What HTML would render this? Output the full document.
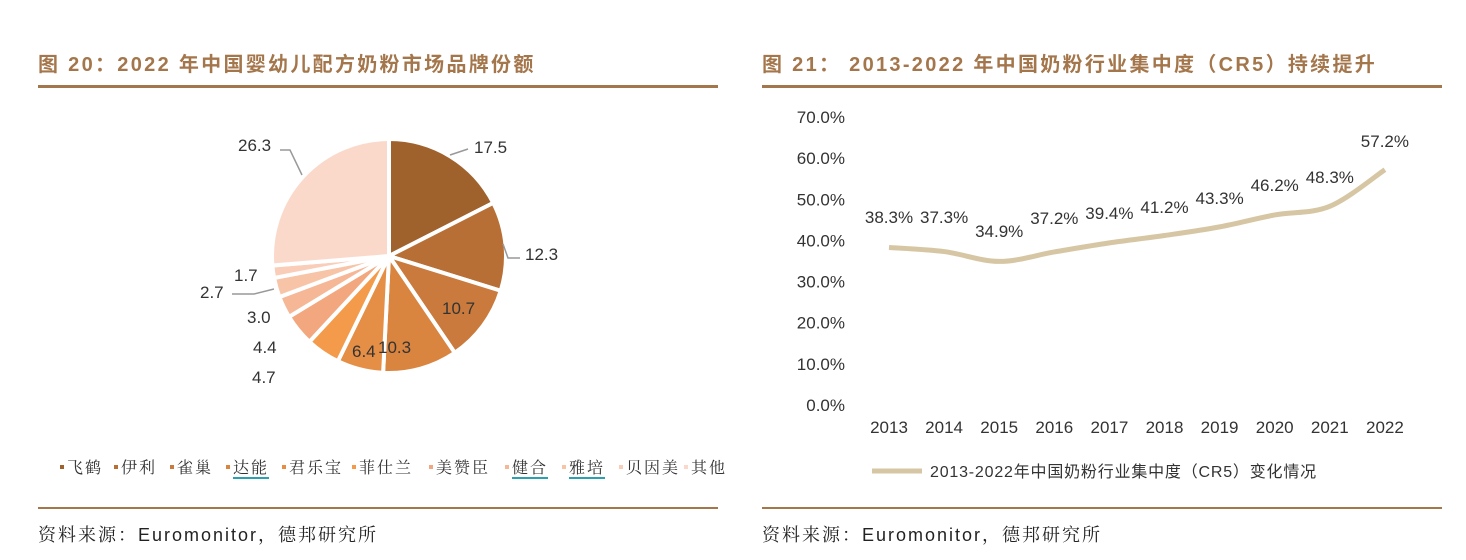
<!DOCTYPE html>
<html><head><meta charset="utf-8"><style>
body{margin:0;background:#fff;width:1466px;height:560px;overflow:hidden;position:relative;font-family:"Liberation Sans","Noto Sans CJK SC",sans-serif}
.t{position:absolute;top:48px;font-size:20px;font-weight:bold;color:#A4764C;white-space:nowrap;letter-spacing:2.3px}
.r{position:absolute;height:3px;background:#A4764C;top:85px}
.r2{position:absolute;height:2px;background:#A4764C;top:507px}
.src{position:absolute;top:521px;font-size:18px;color:#222;white-space:nowrap;font-family:"Liberation Sans","Noto Serif CJK SC",serif;letter-spacing:2px}
svg{position:absolute;left:0;top:0}
</style></head><body>
<div class="t" style="left:38px">图 20：2022 年中国婴幼儿配方奶粉市场品牌份额</div>
<div class="t" style="left:762px">图 21： 2013-2022 年中国奶粉行业集中度（CR5）持续提升</div>
<div class="r" style="left:38px;width:680px"></div>
<div class="r" style="left:762px;width:680px"></div>
<div class="r2" style="left:38px;width:680px"></div>
<div class="r2" style="left:762px;width:680px"></div>
<div class="src" style="left:38px">资料来源：Euromonitor，德邦研究所</div>
<div class="src" style="left:762px">资料来源：Euromonitor，德邦研究所</div>
<svg id="s" width="1466" height="560" font-family="Liberation Sans, Noto Sans CJK SC, sans-serif"></svg>
<script>
var s=document.getElementById('s'),h='';
var v=[17.5,12.3,10.7,10.3,6.4,4.7,4.4,3.0,2.7,1.7,26.3];
var c=['#A0622D','#B86F35','#C97A3C','#D9843F','#E58E46','#F49A4B','#F3A77E','#F5B796','#F8C4A8','#F9CDB8','#FBD9CA'];
var cx=389,cy=256,R=117,a=0;
for(var i=0;i<v.length;i++){var a0=a,a1=a+v[i]/100*2*Math.PI;a=a1;
var x0=cx+R*Math.sin(a0),y0=cy-R*Math.cos(a0),x1=cx+R*Math.sin(a1),y1=cy-R*Math.cos(a1);
h+='<path d="M'+cx+' '+cy+'L'+x0+' '+y0+'A'+R+' '+R+' 0 '+(a1-a0>Math.PI?1:0)+' 1 '+x1+' '+y1+'Z" fill="'+c[i]+'" stroke="#fff" stroke-width="4"/>';}
var L=[[17.5,474,153],[12.3,525,260],[10.7,442,314],[10.3,378,353],[6.4,352,357],[4.7,252,383],[4.4,253,353],[3.0,247,323],[2.7,200,298],[1.7,234,281],[26.3,238,151]];
L.forEach(function(l){h+='<text x="'+l[1]+'" y="'+l[2]+'" font-size="17" fill="#333">'+l[0].toFixed(1)+'</text>';});
h+='<polyline points="450,155 468,149" fill="none" stroke="#999" stroke-width="1.5"/><polyline points="503,244 508,258 520,258" fill="none" stroke="#999" stroke-width="1.5"/><polyline points="280,150 290,150 302,175" fill="none" stroke="#999" stroke-width="1.5"/><polyline points="232,294 254,294 274,289" fill="none" stroke="#999" stroke-width="1.5"/>';
var lg=['飞鹤','伊利','雀巢','达能','君乐宝','菲仕兰','美赞臣','健合','雅培','贝因美','其他'],lx=[66,120,176,232,288,358,435,511,568,625,690];
lg.forEach(function(t,i){h+='<rect x="'+(lx[i]-6)+'" y="465" width="4" height="4" fill="'+c[i]+'"/><text x="'+(lx[i]+1)+'" y="473" font-size="16" fill="#333" letter-spacing="2" font-family="Noto Serif CJK SC, serif">'+t+'</text>';
if(i==3||i==7||i==8)h+='<rect x="'+(lx[i]+1)+'" y="477" width="'+(t.length*18)+'" height="2" fill="#2AA0B0"/>';});
var d=[38.3,37.3,34.9,37.2,39.4,41.2,43.3,46.2,48.3,57.2];
for(var k=0;k<=7;k++){h+='<text x="845" y="'+(411-k*41.14)+'" font-size="17" fill="#333" text-anchor="end">'+(k*10)+'.0%</text>';}
var pts=d.map(function(y,i){return [889+i*55.1,405-y*4.114];});
var p='M'+pts[0][0]+' '+pts[0][1];
for(var i=1;i<pts.length;i++){var a0=pts[i-1],a1=pts[i],pm=pts[i-2]||a0,pn=pts[i+1]||a1;
p+='C'+(a0[0]+(a1[0]-pm[0])/6)+' '+(a0[1]+(a1[1]-pm[1])/6)+' '+(a1[0]-(pn[0]-a0[0])/6)+' '+(a1[1]-(pn[1]-a0[1])/6)+' '+a1[0]+' '+a1[1];}
h+='<path d="'+p+'" fill="none" stroke="#D6C6A4" stroke-width="5"/>';
var ly=[223,223,237,224,219,213,204,191,183,147];
d.forEach(function(y,i){h+='<text x="'+pts[i][0]+'" y="'+ly[i]+'" font-size="17" fill="#333" text-anchor="middle">'+y.toFixed(1)+'%</text>';
h+='<text x="'+pts[i][0]+'" y="433" font-size="17" fill="#333" text-anchor="middle">'+(2013+i)+'</text>';});
h+='<line x1="872" y1="471" x2="922" y2="471" stroke="#D6C6A4" stroke-width="5"/><text x="930" y="477" font-size="16" fill="#333" letter-spacing="0.8">2013-2022年中国奶粉行业集中度（CR5）变化情况</text>';
s.innerHTML=h;
</script>
</body></html>
